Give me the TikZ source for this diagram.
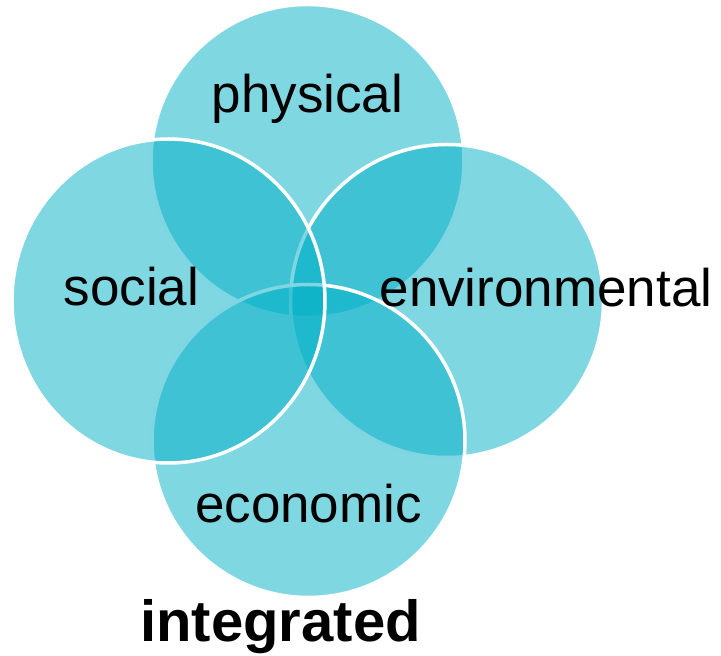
\documentclass[tikz,border=0pt]{standalone}
\usepackage{fontspec}
\setmainfont{Liberation Sans}
\usepackage{tikz}
\usetikzlibrary{positioning,shapes.geometric}
\definecolor{venncyan}{RGB}{0,175,198}

\begin{document}
\begin{tikzpicture}[x=1pt,y=1pt,on grid,
    ring/.style={circle,draw=white,line width=3.5pt,fill=venncyan,fill opacity=0.5,minimum size=313pt,inner sep=0pt},
    lbl/.style={font=\fontsize{53}{60}\selectfont,text height=40pt,text depth=12pt,inner sep=0pt}]
  \useasboundingbox (0,0) rectangle (721,656);
  \node[ring]  (phys) at (307.5,495)                              {};
  \node[ring]  (env)  [below right=140pt and 139.5pt of phys]      {};
  \node[ring]  (econ) [below right=280pt and 1pt of phys]          {};
  \node[ring,ellipse,minimum width=313pt,minimum height=324pt]
               (soc)  [below left=140pt and 139pt of phys]         {};
  \node[lbl]   (lphys) [above=62pt of phys]                        {physical};
  \node[lbl]   (lsoc)  [above left=9pt and 37pt of soc]            {social};
  \node[lbl]   (lenv)  [above right=8pt and 99pt of env]           {environmental};
  \node[lbl]   (lecon) [below=68pt of econ]                        {economic};
  \node[lbl,font=\bfseries\fontsize{58}{64}\selectfont]
               (lint)  [below left=119pt and 28pt of lecon]        {integrated};
\end{tikzpicture}
\end{document}
